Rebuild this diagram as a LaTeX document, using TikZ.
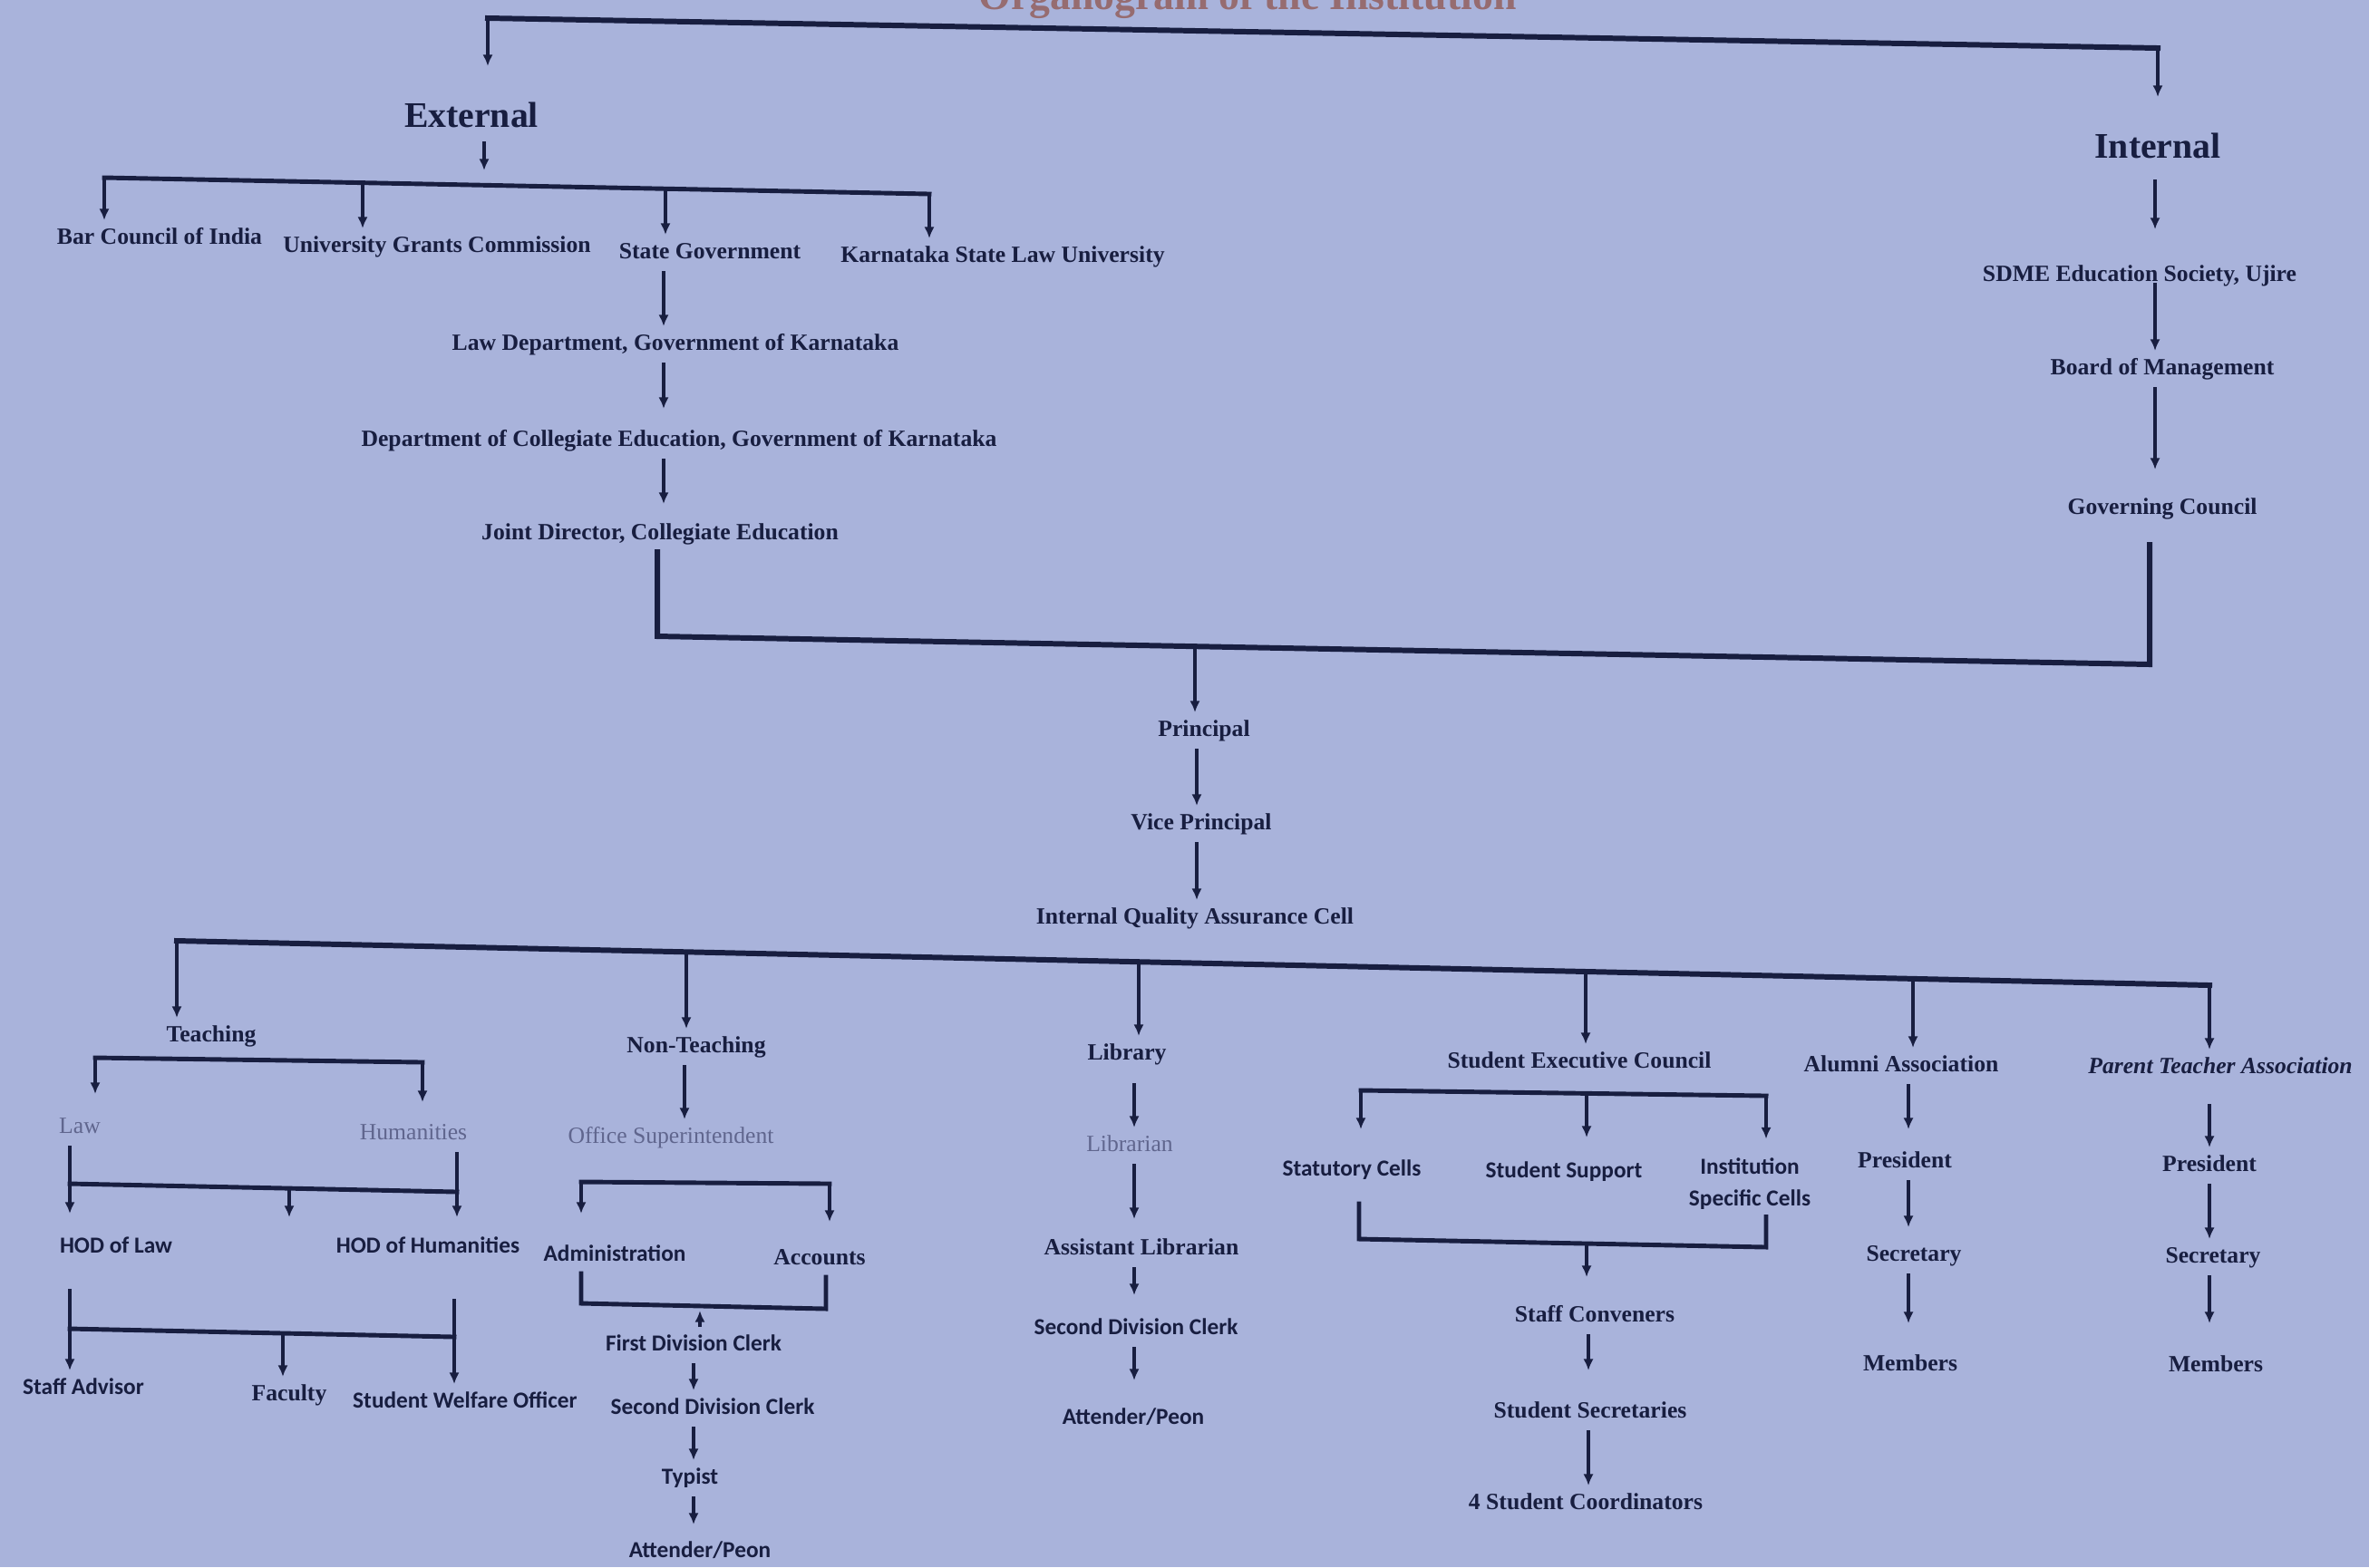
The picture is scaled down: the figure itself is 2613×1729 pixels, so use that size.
\documentclass[tikz,border=0pt]{standalone}
\usepackage{fontspec}
\setmainfont{Liberation Serif}
\newfontfamily\sansb{Carlito}
\usetikzlibrary{arrows.meta,calc}
\definecolor{bg}{RGB}{169,179,219}
\definecolor{ink}{RGB}{24,30,64}
\definecolor{fade}{RGB}{96,102,142}
\definecolor{titlec}{RGB}{150,108,112}
\begin{document}
\begin{tikzpicture}[x=0.01cm,y=-0.01cm,
 lbl/.style={text=ink, inner xsep=0pt, inner ysep=0.08cm, outer sep=0pt, text height=0.18cm, text depth=0.06cm, font=\fontsize{7.3}{9}\selectfont\bfseries},
 sf/.style={font=\sansb\fontsize{7.2}{9}\selectfont\bfseries},
 fd/.style={text=fade, font=\fontsize{7.3}{9}\selectfont},
 big/.style={text height=0.28cm, text depth=0.08cm, font=\fontsize{11.3}{13}\selectfont\bfseries},
 arr/.style={draw=ink, line width=1pt, -{Latex[length=3.6pt,width=3.2pt]}},
 brk/.style={draw=ink, line width=1.4pt, line cap=rect},
 mainln/.style={draw=ink, line width=1.7pt, line cap=rect},
]
\useasboundingbox (0,0) rectangle (2613,1729);
\fill[bg] (0,0) rectangle (2613,1729);

% title (cut by the top edge)
\node[anchor=base, text=titlec, font=\fontsize{13}{15}\selectfont\bfseries] (title) at (1376,10) {Organogram of the Institution};

% ---------- nodes: upper part ----------
\node[lbl,big] (ext) at (520,130) {External};
\node[lbl,big] (int) at (2380,164) {Internal};
\node[lbl] (bci) at (176,263) {Bar Council of India};
\node[lbl] (ugc) at (482,272) {University Grants Commission};
\node[lbl] (sg) at (783,279) {State Government};
\node[lbl] (kslu) at (1106,283) {Karnataka State Law University};
\node[lbl] (lawd) at (745,380) {Law Department, Government of Karnataka};
\node[lbl] (dce) at (749,486) {Department of Collegiate Education, Government of Karnataka};
\node[lbl] (jd) at (728,589) {Joint Director, Collegiate Education};
\node[lbl] (sdme) at (2360,304) {SDME Education Society, Ujire};
\node[lbl] (bom) at (2385,407) {Board of Management};
\node[lbl] (gc) at (2385,561) {Governing Council};
\node[lbl] (prin) at (1328,806) {Principal};
\node[lbl] (vp) at (1325,909) {Vice Principal};
\node[lbl] (iqac) at (1318,1013) {Internal Quality Assurance Cell};

% ---------- nodes: lower part ----------
\node[lbl] (teach) at (233,1143) {Teaching};
\node[lbl] (nt) at (768,1155) {Non-Teaching};
\node[lbl] (lib) at (1243,1163) {Library};
\node[lbl] (sec) at (1742,1172) {Student Executive Council};
\node[lbl] (alum) at (2097,1176) {Alumni Association};
\node[lbl, font=\fontsize{7.3}{9}\selectfont\bfseries\itshape] (pta) at (2449,1178) {Parent Teacher Association};

\node[lbl,fd] (law) at (88,1244) {Law};
\node[lbl,fd] (hum) at (456,1251) {Humanities};
\node[lbl,sf] (hodl) at (128,1376) {HOD of Law};
\node[lbl,sf] (hodh) at (472,1376) {HOD of Humanities};
\node[lbl,sf] (sa) at (92,1532) {Staff Advisor};
\node[lbl] (fac) at (319,1539) {Faculty};
\node[lbl,sf] (swo) at (513,1547) {Student Welfare Officer};

\node[lbl,fd] (os) at (740,1255) {Office Superintendent};
\node[lbl,sf] (adm) at (678,1385) {Administration};
\node[lbl] (acc) at (904,1389) {Accounts};
\node[lbl,sf] (fdc) at (765,1484) {First Division Clerk};
\node[lbl,sf] (sdc1) at (786,1554) {Second Division Clerk};
\node[lbl,sf] (typ) at (761,1631) {Typist};
\node[lbl,sf] (att1) at (772,1712) {Attender/Peon};

\node[lbl,fd] (librn) at (1246,1264) {Librarian};
\node[lbl] (alib) at (1259,1378) {Assistant Librarian};
\node[lbl,sf] (sdc2) at (1253,1466) {Second Division Clerk};
\node[lbl,sf] (att2) at (1250,1565) {Attender/Peon};

\node[lbl,sf] (stat) at (1491,1291) {Statutory Cells};
\node[lbl,sf] (ss) at (1725,1293) {Student Support};
\node[text=ink, inner xsep=0pt, inner ysep=0.08cm, outer sep=0pt, align=center, font=\sansb\fontsize{7.2}{10}\selectfont\bfseries] (isc) at (1930,1306) {Institution\\Specific Cells};
\node[lbl] (sc) at (1759,1452) {Staff Conveners};
\node[lbl] (ssec) at (1754,1558) {Student Secretaries};
\node[lbl] (coord) at (1749,1659) {4 Student Coordinators};

\node[lbl] (apres) at (2101,1282) {President};
\node[lbl] (asec) at (2111,1385) {Secretary};
\node[lbl] (amem) at (2107,1506) {Members};
\node[lbl] (ppres) at (2437,1286) {President};
\node[lbl] (psec) at (2441,1387) {Secretary};
\node[lbl] (pmem) at (2444,1507) {Members};

% ---------- connectors: top ----------
\coordinate (tL) at (538,20);
\coordinate (tR) at (2380,53);
\draw[mainln] (tL) -- (tR);
\draw[arr, shorten >=0.31cm] (tL) -- (tL |- ext.north);
\draw[arr, shorten >=0.31cm] (tR) -- (tR |- int.north);

\coordinate (f2L) at (115,196);
\coordinate (f2R) at (1025,214);
\coordinate (f2a) at (400,201.6);
\coordinate (f2b) at (734,208.2);
\coordinate (xE) at (534,0);
\draw[arr, shorten >=0.08cm] (ext.south -| xE) -- (xE |- f2L);
\draw[brk] (f2L) -- (f2R);
\draw[arr] (f2L) -- (f2L |- bci.north);
\draw[arr] (f2a) -- (f2a |- ugc.north);
\draw[arr] (f2b) -- (f2b |- sg.north);
\draw[arr] (f2R) -- (f2R |- kslu.north);

\coordinate (xS) at (732,0);
\draw[arr] (sg.south -| xS) -- (lawd.north -| xS);
\draw[arr, shorten >=0.15cm] (lawd.south -| xS) -- (dce.north -| xS);
\draw[arr, shorten >=0.13cm] (dce.south -| xS) -- (jd.north -| xS);

\coordinate (xI) at (2377,0);
\draw[arr, shorten <=0.08cm, shorten >=0.31cm] (int.south -| xI) -- (sdme.north -| xI);
\draw[arr, shorten <=-0.12cm] (sdme.south -| xI) -- (bom.north -| xI);
\draw[arr, shorten >=0.23cm] (bom.south -| xI) -- (gc.north -| xI);

\coordinate (jL) at (725,702);
\coordinate (jR) at (2371,733);
\coordinate (jM) at (1318,713.2);
\draw[mainln, shorten <=0.2cm] (gc.south -| jR) -- (jR) -- (jL) -- (jd.south -| jL);
\draw[arr] (jM) -- (jM |- prin.north);
\coordinate (xP) at (1320,0);
\draw[arr] (prin.south -| xP) -- (vp.north -| xP);
\draw[arr] (vp.south -| xP) -- (iqac.north -| xP);

% ---------- connectors: bottom ----------
\coordinate (bL) at (195,1038);
\coordinate (bR) at (2437,1087);
\coordinate (b2) at (757,1050.3);
\coordinate (b3) at (1256,1061.2);
\coordinate (b4) at (1749,1072);
\coordinate (b5) at (2110,1079.9);
\draw[mainln] (bL) -- (bR);
\draw[arr] (bL) -- (bL |- teach.north);
\draw[arr] (b2) -- (b2 |- nt.north);
\draw[arr] (b3) -- (b3 |- lib.north);
\draw[arr] (b4) -- (b4 |- sec.north);
\draw[arr] (b5) -- (b5 |- alum.north);
\draw[arr] (bR) -- (bR |- pta.north);

% Teaching
\coordinate (tfL) at (105,1167);
\coordinate (tfR) at (466,1172);
\draw[brk] (tfL) -- (tfR);
\draw[arr, shorten >=0.17cm] (tfL) -- (tfL |- law.north);
\draw[arr, shorten >=0.15cm] (tfR) -- (tfR |- hum.north);
\coordinate (xLw) at (77,0);
\coordinate (xHm) at (504,0);
\coordinate (xHm2) at (501,0);
\draw[arr, shorten >=0.17cm] (law.south -| xLw) -- (hodl.north -| xLw);
\draw[arr, shorten >=0.13cm] (hum.south -| xHm) -- (hodh.north -| xHm);
\coordinate (hL) at (77,1306);
\coordinate (hR) at (504,1315);
\coordinate (hM) at (319,1311);
\coordinate (hMe) at (319,1343);
\draw[brk] (hL) -- (hR);
\draw[arr] (hM) -- (hMe);
\draw[arr, shorten <=0.26cm] (hodl.south -| xLw) -- (sa.north -| xLw);
\draw[arr, shorten <=0.37cm] (hodh.south -| xHm2) -- (swo.north -| xHm2);
\coordinate (gL) at (77,1466);
\coordinate (gR) at (501,1475);
\coordinate (gM) at (312,1471);
\draw[brk] (gL) -- (gR);
\draw[arr] (gM) -- (gM |- fac.north);

% Non-Teaching
\coordinate (xN) at (755,0);
\draw[arr] (nt.south -| xN) -- (os.north -| xN);
\coordinate (aL) at (641,1304);
\coordinate (aR) at (915,1306);
\draw[brk] (aL) -- (aR);
\draw[arr, shorten >=0.26cm] (aL) -- (aL |- adm.north);
\draw[arr, shorten >=0.21cm] (aR) -- (aR |- acc.north);
\coordinate (cL) at (641,1438);
\coordinate (cR) at (911,1444);
\coordinate (cM) at (772,1441);
\draw[brk] (adm.south -| cL) -- (cL) -- (cR) -- (acc.south -| cR);
\draw[arr, shorten >=0.05cm] (fdc.north -| cM) -- (cM);
\coordinate (xF) at (765,0);
\draw[arr] (fdc.south -| xF) -- (sdc1.north -| xF);
\draw[arr] (sdc1.south -| xF) -- (typ.north -| xF);
\draw[arr, shorten >=0.1cm] (typ.south -| xF) -- (att1.north -| xF);

% Library
\coordinate (xL) at (1251,0);
\draw[arr, shorten <=0.12cm] (lib.south -| xL) -- (librn.north -| xL);
\draw[arr, shorten >=0.13cm] (librn.south -| xL) -- (alib.north -| xL);
\draw[arr, shorten >=0.17cm] (alib.south -| xL) -- (sdc2.north -| xL);
\draw[arr, shorten >=0.22cm] (sdc2.south -| xL) -- (att2.north -| xL);

% Student Executive Council
\coordinate (sL) at (1501,1203);
\coordinate (sR) at (1948,1209);
\coordinate (sM) at (1750,1206.3);
\draw[brk] (sL) -- (sR);
\draw[arr, shorten >=0.25cm] (sL) -- (sL |- stat.north);
\draw[arr, shorten >=0.18cm] (sM) -- (sM |- ss.north);
\draw[arr, shorten >=0.13cm] (sR) -- (sR |- isc.north);
\coordinate (uL) at (1499,1367);
\coordinate (uR) at (1948,1376);
\coordinate (uM) at (1750,1372);
\draw[brk, shorten <=0.17cm] (stat.south -| uL) -- (uL) -- (uR) -- (isc.south -| uR);
\draw[arr, shorten >=0.23cm] (uM) -- (uM |- sc.north);
\coordinate (xC) at (1752,0);
\draw[arr, shorten >=0.26cm] (sc.south -| xC) -- (ssec.north -| xC);
\draw[arr] (ssec.south -| xC) -- (coord.north -| xC);

% Alumni
\coordinate (xA) at (2105,0);
\draw[arr, shorten >=0.16cm] (alum.south -| xA) -- (apres.north -| xA);
\draw[arr, shorten >=0.11cm] (apres.south -| xA) -- (asec.north -| xA);
\draw[arr, shorten >=0.26cm] (asec.south -| xA) -- (amem.north -| xA);

% Parent Teacher Association
\coordinate (xT) at (2437,0);
\draw[arr, shorten <=0.2cm] (pta.south -| xT) -- (ppres.north -| xT);
\draw[arr] (ppres.south -| xT) -- (psec.north -| xT);
\draw[arr, shorten >=0.27cm] (psec.south -| xT) -- (pmem.north -| xT);
\end{tikzpicture}
\end{document}
